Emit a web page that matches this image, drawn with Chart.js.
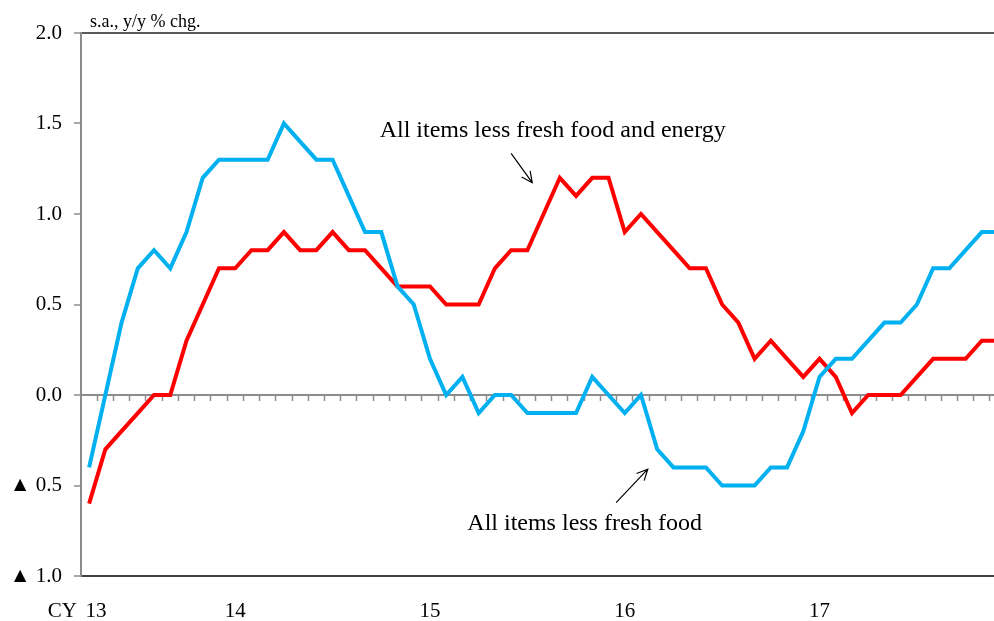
<!DOCTYPE html>
<html>
<head>
<meta charset="utf-8">
<script src="https://cdn.jsdelivr.net/npm/chart.js@4.4.0/dist/chart.umd.min.js"></script>
<style>
  html, body { margin: 0; padding: 0; background: #fff; overflow: hidden; }
  canvas { display: block; }
</style>
</head>
<body>
<canvas id="myChart" width="994" height="621"></canvas>
<script>
// meses: abril 2013 a diciembre 2017
const months = [
  '13/4','13/5','13/6','13/7','13/8','13/9','13/10','13/11','13/12',
  '14/1','14/2','14/3','14/4','14/5','14/6','14/7','14/8','14/9','14/10','14/11','14/12',
  '15/1','15/2','15/3','15/4','15/5','15/6','15/7','15/8','15/9','15/10','15/11','15/12',
  '16/1','16/2','16/3','16/4','16/5','16/6','16/7','16/8','16/9','16/10','16/11','16/12',
  '17/1','17/2','17/3','17/4','17/5','17/6','17/7','17/8','17/9','17/10','17/11','17/12'
];

// All items less fresh food (celeste)
const lessFreshFood = [
  -0.4, 0.0, 0.4, 0.7, 0.8, 0.7, 0.9, 1.2, 1.3,
  1.3, 1.3, 1.3, 1.5, 1.4, 1.3, 1.3, 1.1, 0.9, 0.9, 0.6, 0.5,
  0.2, 0.0, 0.1, -0.1, 0.0, 0.0, -0.1, -0.1, -0.1, -0.1, 0.1, 0.0,
  -0.1, 0.0, -0.3, -0.4, -0.4, -0.4, -0.5, -0.5, -0.5, -0.4, -0.4, -0.2,
  0.1, 0.2, 0.2, 0.3, 0.4, 0.4, 0.5, 0.7, 0.7, 0.8, 0.9, 0.9
];

// All items less fresh food and energy (rojo)
const lessFreshFoodEnergy = [
  -0.6, -0.3, -0.2, -0.1, 0.0, 0.0, 0.3, 0.5, 0.7,
  0.7, 0.8, 0.8, 0.9, 0.8, 0.8, 0.9, 0.8, 0.8, 0.7, 0.6, 0.6,
  0.6, 0.5, 0.5, 0.5, 0.7, 0.8, 0.8, 1.0, 1.2, 1.1, 1.2, 1.2,
  0.9, 1.0, 0.9, 0.8, 0.7, 0.7, 0.5, 0.4, 0.2, 0.3, 0.2, 0.1,
  0.2, 0.1, -0.1, 0.0, 0.0, 0.0, 0.1, 0.2, 0.2, 0.2, 0.3, 0.3
];

const unitNote = 's.a., y/y % chg.';
const noteEnergy = 'All items less fresh food and energy';
const noteFresh = 'All items less fresh food';

const serif = "'Liberation Serif', 'Times New Roman', serif";

// el grafico original esta cortado a la derecha: el ultimo mes queda medio fuera
const xMin = -0.5;
const xMax = 55.75;

// puntos {x: indice del mes, y: valor}
const toPoints = (arr) => arr.map((v, i) => ({ x: i, y: v }));

// etiqueta del eje x: el año solo en enero (el primero va aparte con "CY")
const yearLabel = (i) => {
  const m = months[i];
  if (!m) return '';
  const [yy, mm] = m.split('/');
  return mm === '1' ? yy : '';
};

// flecha simple con punta abierta
function flecha(ctx, x1, y1, x2, y2) {
  const ang = Math.atan2(y2 - y1, x2 - x1);
  const h = 12;
  ctx.beginPath();
  ctx.moveTo(x1, y1);
  ctx.lineTo(x2, y2);
  ctx.moveTo(x2 - h * Math.cos(ang - 0.45), y2 - h * Math.sin(ang - 0.45));
  ctx.lineTo(x2, y2);
  ctx.lineTo(x2 - h * Math.cos(ang + 0.45), y2 - h * Math.sin(ang + 0.45));
  ctx.stroke();
}

// textos y flechas sobre el grafico
const notas = {
  id: 'notas',
  afterDraw(chart) {
    const { ctx, scales: { x, y } } = chart;
    ctx.save();
    ctx.fillStyle = '#000';
    ctx.strokeStyle = '#000';
    ctx.lineWidth = 1.2;

    ctx.font = '18px ' + serif;
    ctx.textAlign = 'left';
    ctx.textBaseline = 'alphabetic';
    ctx.fillText(unitNote, x.left + 9, 27);

    // primer año con "CY"
    ctx.font = '21px ' + serif;
    ctx.textBaseline = 'middle';
    ctx.textAlign = 'right';
    ctx.fillText('CY', 77, 611);
    ctx.textAlign = 'center';
    ctx.fillText(months[0].split('/')[0], x.getPixelForValue(0) + 7, 611);

    ctx.font = '24px ' + serif;
    ctx.textAlign = 'left';
    ctx.textBaseline = 'alphabetic';
    ctx.fillText(noteEnergy, x.getPixelForValue(17.9), y.getPixelForValue(1.425));
    flecha(ctx, x.getPixelForValue(26.0), y.getPixelForValue(1.335),
                x.getPixelForValue(27.3), y.getPixelForValue(1.173));

    ctx.fillText(noteFresh, x.getPixelForValue(23.3), y.getPixelForValue(-0.746));
    flecha(ctx, x.getPixelForValue(32.47), y.getPixelForValue(-0.595),
                x.getPixelForValue(34.42), y.getPixelForValue(-0.41));
    ctx.restore();
  }
};

const ctx = document.getElementById('myChart').getContext('2d');
const myChart = new Chart(ctx, {
  type: 'line',
  data: {
    datasets: [
      {
        label: noteFresh,
        data: toPoints(lessFreshFood),
        borderColor: '#00B0F0',
        borderWidth: 4,
        pointRadius: 0,
        tension: 0,
        fill: false
      },
      {
        label: noteEnergy,
        data: toPoints(lessFreshFoodEnergy),
        borderColor: '#FF0000',
        borderWidth: 4,
        pointRadius: 0,
        tension: 0,
        fill: false
      }
    ]
  },
  options: {
    responsive: false,
    animation: false,
    devicePixelRatio: 1,
    layout: { padding: { top: 33, right: 0, left: 0, bottom: 0 } },
    plugins: {
      legend: { display: false },
      tooltip: { enabled: false }
    },
    scales: {
      x: {
        type: 'linear',
        position: 'bottom',
        min: xMin,
        max: xMax,
        grid: { display: false, drawTicks: false },
        border: { display: true, color: '#404040', width: 2 },
        afterBuildTicks: (s) => {
          s.ticks = months.map((m, i) => i).filter(i => yearLabel(i) !== '').map(i => ({ value: i }));
        },
        ticks: {
          autoSkip: false,
          maxRotation: 0,
          padding: 23,
          color: '#000',
          font: { family: serif, size: 21 },
          callback: (v) => yearLabel(v)
        },
        afterFit: (s) => { s.height = 45; }
      },
      x2: {
        type: 'linear',
        axis: 'x',
        position: { y: 0 },
        min: xMin,
        max: xMax,
        // marcas en el limite entre meses
        afterBuildTicks: (s) => {
          s.ticks = months.map((m, i) => ({ value: i + 0.5 })).filter(t => t.value <= xMax);
        },
        grid: {
          drawOnChartArea: false,
          drawTicks: true,
          tickLength: 5,
          tickColor: '#8c8c8c',
          tickWidth: 1.5
        },
        border: { display: true, color: '#8c8c8c', width: 2 },
        ticks: { display: false }
      },
      y: {
        min: -1,
        max: 2,
        ticks: {
          stepSize: 0.5,
          padding: 12,
          color: '#000',
          font: { family: serif, size: 21 },
          callback: (v) => v < 0 ? '\u25B2 ' + Math.abs(v).toFixed(1) : v.toFixed(1)
        },
        grid: {
          color: (c) => (c.tick && c.tick.value === 2) ? '#595959' : 'rgba(0,0,0,0)',
          lineWidth: 2,
          tickLength: 7,
          tickColor: '#8c8c8c',
          tickWidth: 1.5
        },
        border: { display: true, color: '#8c8c8c', width: 2 },
        afterFit: (s) => { s.width = 81; }
      }
    }
  },
  plugins: [notas]
});
</script>
</body>
</html>
